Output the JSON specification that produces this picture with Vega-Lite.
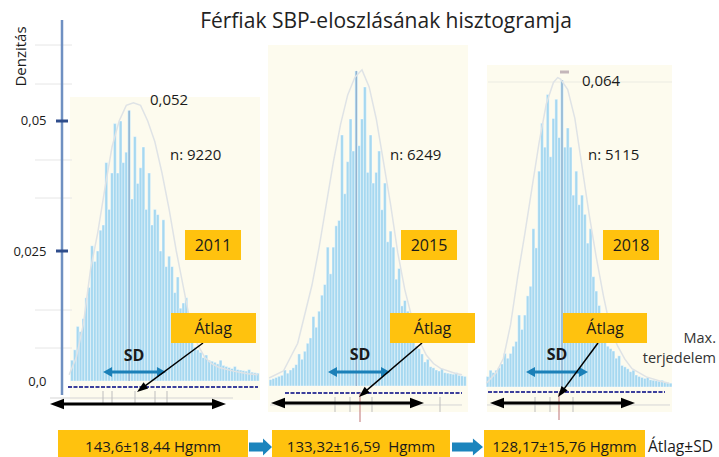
{
"$schema": "https://vega.github.io/schema/vega-lite/v6.json",
"padding": {"left": 12, "top": 0, "right": 0, "bottom": 0},
"bounds": "flush",
"spacing": 0,
"background": "white",
"config": {"view": {"stroke": null}, "font": "Open Sans", "text": {"font": "Open Sans", "color": "#1a1a1a"}},
"hconcat": [
{
"width": 200, "height": 457,
"encoding": {
"x": {"field": "x", "type": "quantitative", "scale": {"domain": [90, 230], "nice": false, "zero": false}, "axis": null},
"y": {"field": "y", "type": "quantitative", "scale": {"domain": [-0.014615, 0.073269], "nice": false, "zero": false},
"axis": {"values": [0, 0.025, 0.05], "labelExpr": "datum.value == 0 ? '0,0' : replace(format(datum.value, '~g'), '.', ',')", "title": "Denzitás", "grid": false, "ticks": false, "domain": false, "labelPadding": 16, "labelFontSize": 13, "labelFont": "Open Sans", "labelColor": "#1a1a1a", "titleFont": "Open Sans", "titleFontSize": 15, "titleFontWeight": "normal", "titleColor": "#1a1a1a", "titleX": -42, "titleY": 56, "titleAngle": 270, "titleAlign": "center", "titleBaseline": "middle"}}
},
"layer": [
{"data": {"values": [{"x": 95.6, "x2": 228.6, "y": 0.05462, "y2": -0.003654}]}, "mark": {"type": "rect", "color": "#fdfbee"}, "encoding": {"x2": {"field": "x2"}, "y2": {"field": "y2"}}},
{"data": {"values": [{"x": 71.1, "x2": 97, "y": 0.064615}, {"x": 71.1, "x2": 97, "y": 0.057115}, {"x": 71.1, "x2": 97, "y": 0.0425}, {"x": 71.1, "x2": 97, "y": 0.035192}, {"x": 71.1, "x2": 97, "y": 0.013654}, {"x": 71.1, "x2": 97, "y": 0.006346}]}, "mark": {"type": "rule", "color": "#e6e6e6", "strokeWidth": 1}, "encoding": {"x2": {"field": "x2"}}},
{"data": {"values": [
{"x":96,"x2":98,"y":0.0040},{"x":98,"x2":100,"y":0.0060},{"x":100,"x2":102,"y":0.0105},{"x":102,"x2":104,"y":0.0095},{"x":104,"x2":106,"y":0.0120},{"x":106,"x2":108,"y":0.0160},{"x":108,"x2":110,"y":0.0180},{"x":110,"x2":112,"y":0.0260},{"x":112,"x2":114,"y":0.0230},{"x":114,"x2":116,"y":0.0250},{"x":116,"x2":118,"y":0.0290},{"x":118,"x2":120,"y":0.0300},{"x":120,"x2":122,"y":0.0420},{"x":122,"x2":124,"y":0.0330},{"x":124,"x2":126,"y":0.0400},{"x":126,"x2":128,"y":0.0495},{"x":128,"x2":130,"y":0.0400},{"x":130,"x2":132,"y":0.0500},{"x":132,"x2":134,"y":0.0420},{"x":134,"x2":136,"y":0.0440},{"x":136,"x2":138,"y":0.0520},{"x":138,"x2":140,"y":0.0350},{"x":140,"x2":142,"y":0.0470},{"x":142,"x2":144,"y":0.0380},{"x":144,"x2":146,"y":0.0410},{"x":146,"x2":148,"y":0.0450},{"x":148,"x2":150,"y":0.0330},{"x":150,"x2":152,"y":0.0400},{"x":152,"x2":154,"y":0.0300},{"x":154,"x2":156,"y":0.0330},{"x":156,"x2":158,"y":0.0320},{"x":158,"x2":160,"y":0.0250},{"x":160,"x2":162,"y":0.0310},{"x":162,"x2":164,"y":0.0220},{"x":164,"x2":166,"y":0.0240},{"x":166,"x2":168,"y":0.0220},{"x":168,"x2":170,"y":0.0170},{"x":170,"x2":172,"y":0.0200},{"x":172,"x2":174,"y":0.0140},{"x":174,"x2":176,"y":0.0150},{"x":176,"x2":178,"y":0.0160},{"x":178,"x2":180,"y":0.0095},{"x":180,"x2":182,"y":0.0110},{"x":182,"x2":184,"y":0.0065},{"x":184,"x2":186,"y":0.0060},{"x":186,"x2":188,"y":0.0055},{"x":188,"x2":190,"y":0.0045},{"x":190,"x2":192,"y":0.0050},{"x":192,"x2":194,"y":0.0040},{"x":194,"x2":196,"y":0.0038},{"x":196,"x2":198,"y":0.0036},{"x":198,"x2":200,"y":0.0033},{"x":200,"x2":202,"y":0.0040},{"x":202,"x2":204,"y":0.0030},{"x":204,"x2":206,"y":0.0028},{"x":206,"x2":208,"y":0.0026},{"x":208,"x2":210,"y":0.0024},{"x":210,"x2":212,"y":0.0028},{"x":212,"x2":214,"y":0.0022},{"x":214,"x2":216,"y":0.0021},{"x":216,"x2":218,"y":0.0020},{"x":218,"x2":220,"y":0.0019},{"x":220,"x2":222,"y":0.0022},{"x":222,"x2":224,"y":0.0017},{"x":224,"x2":226,"y":0.0016},{"x":226,"x2":228,"y":0.0015}
]}, "mark": {"type": "rect", "color": "#a6d8f0", "stroke": "#ffffff", "strokeWidth": 0.4}, "encoding": {"x2": {"field": "x2"}, "y2": {"datum": 0}}},
{"data": {"values": [{"x": 137, "y": 0, "y2": 0.052}]}, "mark": {"type": "rule", "color": "#93a8c4", "strokeWidth": 1}, "encoding": {"y2": {"field": "y2"}}},
{"data": {"values": [
{"x":95,"y":0.0012},{"x":100,"y":0.0045},{"x":105,"y":0.011},{"x":110,"y":0.0215},{"x":115,"y":0.0285},{"x":120,"y":0.037},{"x":125,"y":0.045},{"x":130,"y":0.050},{"x":135,"y":0.053},{"x":140,"y":0.0535},{"x":145,"y":0.053},{"x":150,"y":0.050},{"x":155,"y":0.046},{"x":160,"y":0.040},{"x":165,"y":0.033},{"x":170,"y":0.025},{"x":175,"y":0.018},{"x":180,"y":0.011},{"x":185,"y":0.007},{"x":190,"y":0.0045},{"x":195,"y":0.0033},{"x":200,"y":0.0026},{"x":210,"y":0.0019},{"x":220,"y":0.0014},{"x":227,"y":0.0012}
]}, "mark": {"type": "line", "color": "#dfe3e6", "strokeWidth": 1.5}},
{"data": {"values": [{"x": 94.2, "x2": 227.2, "y": -0.001154}]}, "mark": {"type": "rule", "color": "#3c3f9c", "strokeWidth": 2, "strokeDash": [4, 1.5]}, "encoding": {"x2": {"field": "x2"}}},
{"data": {"values": [{"x": 81.6, "x2": 209.7, "y": -0.003269}]}, "mark": {"type": "rule", "color": "#d5d5d5", "strokeWidth": 1}, "encoding": {"x2": {"field": "x2"}}},
{"data": {"values": [{"x": 118.7, "y": -0.001923, "y2": -0.004615}, {"x": 125, "y": -0.001923, "y2": -0.004615}, {"x": 141.1, "y": -0.001923, "y2": -0.004615}, {"x": 155.1, "y": -0.001923, "y2": -0.004615}, {"x": 163.5, "y": -0.001923, "y2": -0.004615}]}, "mark": {"type": "rule", "color": "#bdbdbd", "strokeWidth": 1}, "encoding": {"y2": {"field": "y2"}}},
{"data": {"values": [{"x": 90, "y": -0.002692, "y2": 0.069423}]}, "mark": {"type": "rule", "color": "#6f90c2", "strokeWidth": 2.5}, "encoding": {"y2": {"field": "y2"}}},
{"data": {"values": [{"x": 85.8, "x2": 94.2, "y": 0.05}, {"x": 85.8, "x2": 94.2, "y": 0.025}]}, "mark": {"type": "rule", "color": "#2f4d8c", "strokeWidth": 3}, "encoding": {"x2": {"field": "x2"}}},
{"data": {"values": [{"x": 86.5, "x2": 199.9, "y": -0.004423}]}, "mark": {"type": "rule", "color": "#000000", "strokeWidth": 3}, "encoding": {"x2": {"field": "x2"}}},
{"data": {"values": [{"x": 86.5, "y": -0.004423, "a": 270}, {"x": 199.9, "y": -0.004423, "a": 90}]}, "mark": {"type": "point", "shape": "M0,-1L0.75,1L-0.75,1Z", "size": 196, "filled": true, "color": "#000000", "opacity": 1}, "encoding": {"angle": {"field": "a", "type": "quantitative", "scale": null}}},
{"data": {"values": [{"x": 121.9, "x2": 159.6, "y": 0.001731}]}, "mark": {"type": "rule", "color": "#1b80b8", "strokeWidth": 3}, "encoding": {"x2": {"field": "x2"}}},
{"data": {"values": [{"x": 121.9, "y": 0.001731, "a": 270}, {"x": 159.6, "y": 0.001731, "a": 90}]}, "mark": {"type": "point", "shape": "M0,-1L1.1,1L-1.1,1Z", "size": 81, "filled": true, "color": "#1b80b8", "opacity": 1}, "encoding": {"angle": {"field": "a", "type": "quantitative", "scale": null}}},
{"data": {"values": [{"x": 188.7, "y": 0.007308, "x2": 145.6, "y2": -0.001481}]}, "mark": {"type": "rule", "color": "#000000", "strokeWidth": 1.5}, "encoding": {"x2": {"field": "x2"}, "y2": {"field": "y2"}}},
{"data": {"values": [{"x": 145.6, "y": -0.001481, "a": 233.4}]}, "mark": {"type": "point", "shape": "M0,-1L0.7,1L-0.7,1Z", "size": 121, "filled": true, "color": "#000000", "opacity": 1}, "encoding": {"angle": {"field": "a", "type": "quantitative", "scale": null}}},
{"data": {"values": [{"x": 176.1, "x2": 215.3, "y": 0.029038, "y2": 0.023269}, {"x": 166.3, "x2": 225.8, "y": 0.013077, "y2": 0.007308}, {"x": 87.2, "x2": 220.2, "y": -0.009423, "y2": -0.014615}]}, "mark": {"type": "rect", "color": "#ffc20e"}, "encoding": {"x2": {"field": "x2"}, "y2": {"field": "y2"}}},
{"data": {"values": [{"x": 195.7, "y": 0.025962, "t": "2011"}, {"x": 195.8, "y": 0.01, "t": "Átlag"}]}, "mark": {"type": "text", "fontSize": 16, "align": "center", "baseline": "middle"}, "encoding": {"text": {"field": "t"}}},
{"data": {"values": [{"x": 153.7, "y": -0.012692, "t": "143,6±18,44 Hgmm"}]}, "mark": {"type": "text", "fontSize": 15, "align": "center", "baseline": "middle"}, "encoding": {"text": {"field": "t"}}},
{"data": {"values": [{"x": 151.6, "y": 0.054038, "t": "0,052"}, {"x": 165.6, "y": 0.043462, "t": "n: 9220"}]}, "mark": {"type": "text", "fontSize": 15, "align": "left", "baseline": "middle"}, "encoding": {"text": {"field": "t"}}},
{"data": {"values": [{"x": 140.4, "y": 0.004808, "t": "SD"}]}, "mark": {"type": "text", "fontSize": 16, "fontWeight": "bold", "align": "center", "baseline": "middle"}, "encoding": {"text": {"field": "t"}}},
{"data": {"values": [{"x": 228.95, "y": -0.012692}]}, "mark": {"type": "point", "shape": "M-1,-0.39L0.22,-0.39L0.22,-0.74L1,0L0.22,0.74L0.22,0.39L-1,0.39Z", "size": 529, "filled": true, "color": "#1b84bd", "opacity": 1}}
]
},
{
"width": 210, "height": 457,
"encoding": {
"x": {"field": "x", "type": "quantitative", "scale": {"domain": [65, 212], "nice": false, "zero": false}, "axis": null},
"y": {"field": "y", "type": "quantitative", "scale": {"domain": [-0.0133, 0.07228], "nice": false, "zero": false}, "axis": null}
},
"layer": [
{"data": {"values": [{"x": 69.2, "x2": 209.2, "y": 0.063858, "y2": -0.004869}]}, "mark": {"type": "rect", "color": "#fdfbee"}, "encoding": {"x2": {"field": "x2"}, "y2": {"field": "y2"}}},
{"data": {"values": [
{"x":70,"x2":72,"y":0.0012},{"x":72,"x2":74,"y":0.0014},{"x":74,"x2":76,"y":0.0016},{"x":76,"x2":78,"y":0.0018},{"x":78,"x2":80,"y":0.0020},{"x":80,"x2":82,"y":0.0030},{"x":82,"x2":84,"y":0.0024},{"x":84,"x2":86,"y":0.0030},{"x":86,"x2":88,"y":0.0034},{"x":88,"x2":90,"y":0.0040},{"x":90,"x2":92,"y":0.0060},{"x":92,"x2":94,"y":0.0050},{"x":94,"x2":96,"y":0.0065},{"x":96,"x2":98,"y":0.0080},{"x":98,"x2":100,"y":0.0090},{"x":100,"x2":102,"y":0.0130},{"x":102,"x2":104,"y":0.0110},{"x":104,"x2":106,"y":0.0140},{"x":106,"x2":108,"y":0.0170},{"x":108,"x2":110,"y":0.0190},{"x":110,"x2":112,"y":0.0260},{"x":112,"x2":114,"y":0.0210},{"x":114,"x2":116,"y":0.0260},{"x":116,"x2":118,"y":0.0300},{"x":118,"x2":120,"y":0.0310},{"x":120,"x2":122,"y":0.0470},{"x":122,"x2":124,"y":0.0360},{"x":124,"x2":126,"y":0.0420},{"x":126,"x2":128,"y":0.0500},{"x":128,"x2":130,"y":0.0440},{"x":130,"x2":132,"y":0.0590},{"x":132,"x2":134,"y":0.0450},{"x":134,"x2":136,"y":0.0500},{"x":136,"x2":138,"y":0.0560},{"x":138,"x2":140,"y":0.0400},{"x":140,"x2":142,"y":0.0470},{"x":142,"x2":144,"y":0.0380},{"x":144,"x2":146,"y":0.0400},{"x":146,"x2":148,"y":0.0440},{"x":148,"x2":150,"y":0.0330},{"x":150,"x2":152,"y":0.0380},{"x":152,"x2":154,"y":0.0270},{"x":154,"x2":156,"y":0.0290},{"x":156,"x2":158,"y":0.0260},{"x":158,"x2":160,"y":0.0200},{"x":160,"x2":162,"y":0.0220},{"x":162,"x2":164,"y":0.0150},{"x":164,"x2":166,"y":0.0160},{"x":166,"x2":168,"y":0.0140},{"x":168,"x2":170,"y":0.0100},{"x":170,"x2":172,"y":0.0110},{"x":172,"x2":174,"y":0.0075},{"x":174,"x2":176,"y":0.0070},{"x":176,"x2":178,"y":0.0060},{"x":178,"x2":180,"y":0.0045},{"x":180,"x2":182,"y":0.0050},{"x":182,"x2":184,"y":0.0036},{"x":184,"x2":186,"y":0.0034},{"x":186,"x2":188,"y":0.0030},{"x":188,"x2":190,"y":0.0028},{"x":190,"x2":192,"y":0.0032},{"x":192,"x2":194,"y":0.0025},{"x":194,"x2":196,"y":0.0024},{"x":196,"x2":198,"y":0.0023},{"x":198,"x2":200,"y":0.0022},{"x":200,"x2":202,"y":0.0025},{"x":202,"x2":204,"y":0.0020},{"x":204,"x2":206,"y":0.0019},{"x":206,"x2":208,"y":0.0018}
]}, "mark": {"type": "rect", "color": "#a6d8f0", "stroke": "#ffffff", "strokeWidth": 0.4}, "encoding": {"x2": {"field": "x2"}, "y2": {"datum": 0}}},
{"data": {"values": [{"x": 131, "y": 0, "y2": 0.059}]}, "mark": {"type": "rule", "color": "#93a8c4", "strokeWidth": 1}, "encoding": {"y2": {"field": "y2"}}},
{"data": {"values": [
{"x":70,"y":0.0015},{"x":80,"y":0.0028},{"x":90,"y":0.008},{"x":100,"y":0.0189},{"x":105,"y":0.026},{"x":110,"y":0.034},{"x":115,"y":0.042},{"x":120,"y":0.049},{"x":125,"y":0.0545},{"x":130,"y":0.0578},{"x":135,"y":0.0592},{"x":140,"y":0.056},{"x":145,"y":0.050},{"x":150,"y":0.042},{"x":155,"y":0.034},{"x":160,"y":0.025},{"x":165,"y":0.018},{"x":170,"y":0.0127},{"x":175,"y":0.0085},{"x":180,"y":0.0058},{"x":185,"y":0.0042},{"x":190,"y":0.0033},{"x":200,"y":0.0024},{"x":205,"y":0.0021}
]}, "mark": {"type": "line", "color": "#dfe3e6", "strokeWidth": 1.5}},
{"data": {"values": [{"x": 81.1, "x2": 205, "y": -0.001311}]}, "mark": {"type": "rule", "color": "#3c3f9c", "strokeWidth": 2, "strokeDash": [4, 1.5]}, "encoding": {"x2": {"field": "x2"}}},
{"data": {"values": [{"x": 70.6, "x2": 205, "y": -0.003558}]}, "mark": {"type": "rule", "color": "#d5d5d5", "strokeWidth": 1}, "encoding": {"x2": {"field": "x2"}}},
{"data": {"values": [{"x": 116.1, "y": -0.00206, "y2": -0.004869}, {"x": 126.6, "y": -0.00206, "y2": -0.004869}, {"x": 142, "y": -0.00206, "y2": -0.004869}, {"x": 189.6, "y": -0.00206, "y2": -0.004869}]}, "mark": {"type": "rule", "color": "#bdbdbd", "strokeWidth": 1}, "encoding": {"y2": {"field": "y2"}}},
{"data": {"values": [{"x": 133.6, "y": -0.001311, "y2": -0.006742}]}, "mark": {"type": "rule", "color": "#c98a8a", "strokeWidth": 1.2}, "encoding": {"y2": {"field": "y2"}}},
{"data": {"values": [{"x": 76.2, "x2": 173.5, "y": -0.003184}]}, "mark": {"type": "rule", "color": "#000000", "strokeWidth": 3}, "encoding": {"x2": {"field": "x2"}}},
{"data": {"values": [{"x": 76.2, "y": -0.003184, "a": 270}, {"x": 173.5, "y": -0.003184, "a": 90}]}, "mark": {"type": "point", "shape": "M0,-1L0.75,1L-0.75,1Z", "size": 196, "filled": true, "color": "#000000", "opacity": 1}, "encoding": {"angle": {"field": "a", "type": "quantitative", "scale": null}}},
{"data": {"values": [{"x": 114.35, "x2": 151.45, "y": 0.002622}]}, "mark": {"type": "rule", "color": "#1b80b8", "strokeWidth": 3}, "encoding": {"x2": {"field": "x2"}}},
{"data": {"values": [{"x": 114.35, "y": 0.002622, "a": 270}, {"x": 151.45, "y": 0.002622, "a": 90}]}, "mark": {"type": "point", "shape": "M0,-1L1.1,1L-1.1,1Z", "size": 81, "filled": true, "color": "#1b80b8", "opacity": 1}, "encoding": {"angle": {"field": "a", "type": "quantitative", "scale": null}}},
{"data": {"values": [{"x": 177, "y": 0.008052, "x2": 135.77, "y2": -0.001386}]}, "mark": {"type": "rule", "color": "#000000", "strokeWidth": 1.5}, "encoding": {"x2": {"field": "x2"}, "y2": {"field": "y2"}}},
{"data": {"values": [{"x": 135.77, "y": -0.001386, "a": 228.9}]}, "mark": {"type": "point", "shape": "M0,-1L0.7,1L-0.7,1Z", "size": 121, "filled": true, "color": "#000000", "opacity": 1}, "encoding": {"angle": {"field": "a", "type": "quantitative", "scale": null}}},
{"data": {"values": [{"x": 162.3, "x2": 201.5, "y": 0.029213, "y2": 0.023596}, {"x": 154.6, "x2": 214.1, "y": 0.01367, "y2": 0.008052}, {"x": 72, "x2": 196.6, "y": -0.00824, "y2": -0.0133}]}, "mark": {"type": "rect", "color": "#ffc20e"}, "encoding": {"x2": {"field": "x2"}, "y2": {"field": "y2"}}},
{"data": {"values": [{"x": 181.9, "y": 0.026217, "t": "2015"}, {"x": 184.35, "y": 0.010674, "t": "Átlag"}]}, "mark": {"type": "text", "fontSize": 16, "align": "center", "baseline": "middle"}, "encoding": {"text": {"field": "t"}}},
{"data": {"values": [{"x": 134.3, "y": -0.011423, "t": "133,32±16,59\u00a0\u00a0Hgmm"}]}, "mark": {"type": "text", "fontSize": 15, "align": "center", "baseline": "middle"}, "encoding": {"text": {"field": "t"}}},
{"data": {"values": [{"x": 154.6, "y": 0.043258, "t": "n: 6249"}]}, "mark": {"type": "text", "fontSize": 15, "align": "left", "baseline": "middle"}, "encoding": {"text": {"field": "t"}}},
{"data": {"values": [{"x": 133.6, "y": 0.005805, "t": "SD"}]}, "mark": {"type": "text", "fontSize": 16, "fontWeight": "bold", "align": "center", "baseline": "middle"}, "encoding": {"text": {"field": "t"}}},
{"data": {"values": [{"x": 151.8, "y": 0.068165, "t": "Férfiak SBP-eloszlásának hisztogramja"}]}, "mark": {"type": "text", "fontSize": 21, "align": "center", "baseline": "middle", "color": "#222222"}, "encoding": {"text": {"field": "t"}}},
{"data": {"values": [{"x": 208.85, "y": -0.011423}]}, "mark": {"type": "point", "shape": "M-1,-0.29L0.35,-0.29L0.35,-0.55L1,0L0.35,0.55L0.35,0.29L-1,0.29Z", "size": 961, "filled": true, "color": "#1b84bd", "opacity": 1}}
]
},
{
"width": 247, "height": 457,
"encoding": {
"x": {"field": "x", "type": "quantitative", "scale": {"domain": [68, 240.9], "nice": false, "zero": false}, "axis": null},
"y": {"field": "y", "type": "quantitative", "scale": {"domain": [-0.014593, 0.08068], "nice": false, "zero": false}, "axis": null}
},
"layer": [
{"data": {"values": [{"x": 78.5, "x2": 208, "y": 0.067126, "y2": -0.005212}]}, "mark": {"type": "rect", "color": "#fdfbee"}, "encoding": {"x2": {"field": "x2"}, "y2": {"field": "y2"}}},
{"data": {"values": [{"x": 79.2, "x2": 208, "y": 0.063583}]}, "mark": {"type": "rule", "color": "#ebebe2", "strokeWidth": 1}, "encoding": {"x2": {"field": "x2"}}},
{"data": {"values": [
{"x":78,"x2":80,"y":0.0022},{"x":80,"x2":82,"y":0.0035},{"x":82,"x2":84,"y":0.0030},{"x":84,"x2":86,"y":0.0035},{"x":86,"x2":88,"y":0.0040},{"x":88,"x2":90,"y":0.0048},{"x":90,"x2":92,"y":0.0070},{"x":92,"x2":94,"y":0.0060},{"x":94,"x2":96,"y":0.0070},{"x":96,"x2":98,"y":0.0085},{"x":98,"x2":100,"y":0.0095},{"x":100,"x2":102,"y":0.0150},{"x":102,"x2":104,"y":0.0120},{"x":104,"x2":106,"y":0.0150},{"x":106,"x2":108,"y":0.0190},{"x":108,"x2":110,"y":0.0210},{"x":110,"x2":112,"y":0.0330},{"x":112,"x2":114,"y":0.0290},{"x":114,"x2":116,"y":0.0450},{"x":116,"x2":118,"y":0.0550},{"x":118,"x2":120,"y":0.0500},{"x":120,"x2":122,"y":0.0610},{"x":122,"x2":124,"y":0.0480},{"x":124,"x2":126,"y":0.0560},{"x":126,"x2":128,"y":0.0600},{"x":128,"x2":130,"y":0.0520},{"x":130,"x2":132,"y":0.0640},{"x":132,"x2":134,"y":0.0500},{"x":134,"x2":136,"y":0.0540},{"x":136,"x2":138,"y":0.0500},{"x":138,"x2":140,"y":0.0400},{"x":140,"x2":142,"y":0.0450},{"x":142,"x2":144,"y":0.0380},{"x":144,"x2":146,"y":0.0400},{"x":146,"x2":148,"y":0.0360},{"x":148,"x2":150,"y":0.0300},{"x":150,"x2":152,"y":0.0330},{"x":152,"x2":154,"y":0.0230},{"x":154,"x2":156,"y":0.0200},{"x":156,"x2":158,"y":0.0170},{"x":158,"x2":160,"y":0.0120},{"x":160,"x2":162,"y":0.0130},{"x":162,"x2":164,"y":0.0085},{"x":164,"x2":166,"y":0.0080},{"x":166,"x2":168,"y":0.0075},{"x":168,"x2":170,"y":0.0060},{"x":170,"x2":172,"y":0.0065},{"x":172,"x2":174,"y":0.0045},{"x":174,"x2":176,"y":0.0042},{"x":176,"x2":178,"y":0.0038},{"x":178,"x2":180,"y":0.0032},{"x":180,"x2":182,"y":0.0035},{"x":182,"x2":184,"y":0.0025},{"x":184,"x2":186,"y":0.0022},{"x":186,"x2":188,"y":0.0020},{"x":188,"x2":190,"y":0.0018},{"x":190,"x2":192,"y":0.0020},{"x":192,"x2":194,"y":0.0015},{"x":194,"x2":196,"y":0.0014},{"x":196,"x2":198,"y":0.0013},{"x":198,"x2":200,"y":0.0012},{"x":200,"x2":202,"y":0.0014},{"x":202,"x2":204,"y":0.0010},{"x":204,"x2":206,"y":0.0009},{"x":206,"x2":208,"y":0.0008}
]}, "mark": {"type": "rect", "color": "#a6d8f0", "stroke": "#ffffff", "strokeWidth": 0.4}, "encoding": {"x2": {"field": "x2"}, "y2": {"datum": 0}}},
{"data": {"values": [{"x": 131, "y": 0, "y2": 0.064}]}, "mark": {"type": "rule", "color": "#93a8c4", "strokeWidth": 1}, "encoding": {"y2": {"field": "y2"}}},
{"data": {"values": [{"x": 129.6, "x2": 135.9, "y": 0.065668}]}, "mark": {"type": "rule", "color": "#c4b6ba", "strokeWidth": 3}, "encoding": {"x2": {"field": "x2"}}},
{"data": {"values": [
{"x":78,"y":0.0008},{"x":85,"y":0.003},{"x":90,"y":0.006},{"x":95,"y":0.013},{"x":100,"y":0.023},{"x":105,"y":0.032},{"x":110,"y":0.0415},{"x":115,"y":0.051},{"x":120,"y":0.059},{"x":125,"y":0.0635},{"x":128,"y":0.0645},{"x":130,"y":0.0642},{"x":135,"y":0.062},{"x":140,"y":0.056},{"x":145,"y":0.046},{"x":150,"y":0.036},{"x":155,"y":0.027},{"x":160,"y":0.019},{"x":165,"y":0.012},{"x":170,"y":0.0085},{"x":175,"y":0.0058},{"x":180,"y":0.0038},{"x":190,"y":0.0021},{"x":200,"y":0.0012},{"x":206,"y":0.0008}
]}, "mark": {"type": "line", "color": "#dfe3e6", "strokeWidth": 1.5}},
{"data": {"values": [{"x": 79.2, "x2": 203.1, "y": -0.001042}]}, "mark": {"type": "rule", "color": "#3c3f9c", "strokeWidth": 2, "strokeDash": [4, 1.5]}, "encoding": {"x2": {"field": "x2"}}},
{"data": {"values": [{"x": 78.5, "x2": 206.6, "y": -0.003752}]}, "mark": {"type": "rule", "color": "#d5d5d5", "strokeWidth": 1}, "encoding": {"x2": {"field": "x2"}}},
{"data": {"values": [{"x": 112.1, "y": -0.002085, "y2": -0.005212}, {"x": 122.6, "y": -0.002085, "y2": -0.005212}, {"x": 138.7, "y": -0.002085, "y2": -0.005212}]}, "mark": {"type": "rule", "color": "#bdbdbd", "strokeWidth": 1}, "encoding": {"y2": {"field": "y2"}}},
{"data": {"values": [{"x": 128.9, "y": -0.001251, "y2": -0.00688}]}, "mark": {"type": "rule", "color": "#c98a8a", "strokeWidth": 1.2}, "encoding": {"y2": {"field": "y2"}}},
{"data": {"values": [{"x": 85.5, "x2": 177.2, "y": -0.003336}]}, "mark": {"type": "rule", "color": "#000000", "strokeWidth": 3}, "encoding": {"x2": {"field": "x2"}}},
{"data": {"values": [{"x": 85.5, "y": -0.003336, "a": 270}, {"x": 177.2, "y": -0.003336, "a": 90}]}, "mark": {"type": "point", "shape": "M0,-1L0.75,1L-0.75,1Z", "size": 196, "filled": true, "color": "#000000", "opacity": 1}, "encoding": {"angle": {"field": "a", "type": "quantitative", "scale": null}}},
{"data": {"values": [{"x": 108.95, "x2": 146.05, "y": 0.003127}]}, "mark": {"type": "rule", "color": "#1b80b8", "strokeWidth": 3}, "encoding": {"x2": {"field": "x2"}}},
{"data": {"values": [{"x": 108.95, "y": 0.003127, "a": 270}, {"x": 146.05, "y": 0.003127, "a": 90}]}, "mark": {"type": "point", "shape": "M0,-1L1.1,1L-1.1,1Z", "size": 81, "filled": true, "color": "#1b80b8", "opacity": 1}, "encoding": {"angle": {"field": "a", "type": "quantitative", "scale": null}}},
{"data": {"values": [{"x": 156.2, "y": 0.009173, "x2": 130.51, "y2": -0.001167}]}, "mark": {"type": "rule", "color": "#000000", "strokeWidth": 1.5}, "encoding": {"x2": {"field": "x2"}, "y2": {"field": "y2"}}},
{"data": {"values": [{"x": 130.51, "y": -0.001167, "a": 216.5}]}, "mark": {"type": "point", "shape": "M0,-1L0.7,1L-0.7,1Z", "size": 121, "filled": true, "color": "#000000", "opacity": 1}, "encoding": {"angle": {"field": "a", "type": "quantitative", "scale": null}}},
{"data": {"values": [{"x": 159.7, "x2": 198.9, "y": 0.032729, "y2": 0.026475}, {"x": 131.7, "x2": 190.5, "y": 0.015427, "y2": 0.009173}, {"x": 76.4, "x2": 189.1, "y": -0.008964, "y2": -0.014593}]}, "mark": {"type": "rect", "color": "#ffc20e"}, "encoding": {"x2": {"field": "x2"}, "y2": {"field": "y2"}}},
{"data": {"values": [{"x": 179.3, "y": 0.029394, "t": "2018"}, {"x": 161.1, "y": 0.012091, "t": "Átlag"}]}, "mark": {"type": "text", "fontSize": 16, "align": "center", "baseline": "middle"}, "encoding": {"text": {"field": "t"}}},
{"data": {"values": [{"x": 132.75, "y": -0.012508, "t": "128,17±15,76 Hgmm"}]}, "mark": {"type": "text", "fontSize": 15, "align": "center", "baseline": "middle"}, "encoding": {"text": {"field": "t"}}},
{"data": {"values": [{"x": 145, "y": 0.063791, "t": "0,064"}, {"x": 149.2, "y": 0.048365, "t": "n: 5115"}]}, "mark": {"type": "text", "fontSize": 15, "align": "left", "baseline": "middle"}, "encoding": {"text": {"field": "t"}}},
{"data": {"values": [{"x": 127.5, "y": 0.006671, "t": "SD"}]}, "mark": {"type": "text", "fontSize": 16, "fontWeight": "bold", "align": "center", "baseline": "middle"}, "encoding": {"text": {"field": "t"}}},
{"data": {"values": [{"x": 191.2, "y": -0.012508, "t": "Átlag±SD"}]}, "mark": {"type": "text", "fontSize": 15.5, "align": "left", "baseline": "middle"}, "encoding": {"text": {"field": "t"}}},
{"data": {"values": [{"x": 238.8, "y": 0.010007, "t": "Max."}, {"x": 238.8, "y": 0.005837, "t": "terjedelem"}]}, "mark": {"type": "text", "fontSize": 14.5, "align": "right", "baseline": "middle", "color": "#333333"}, "encoding": {"text": {"field": "t"}}}
]
}
]
}
